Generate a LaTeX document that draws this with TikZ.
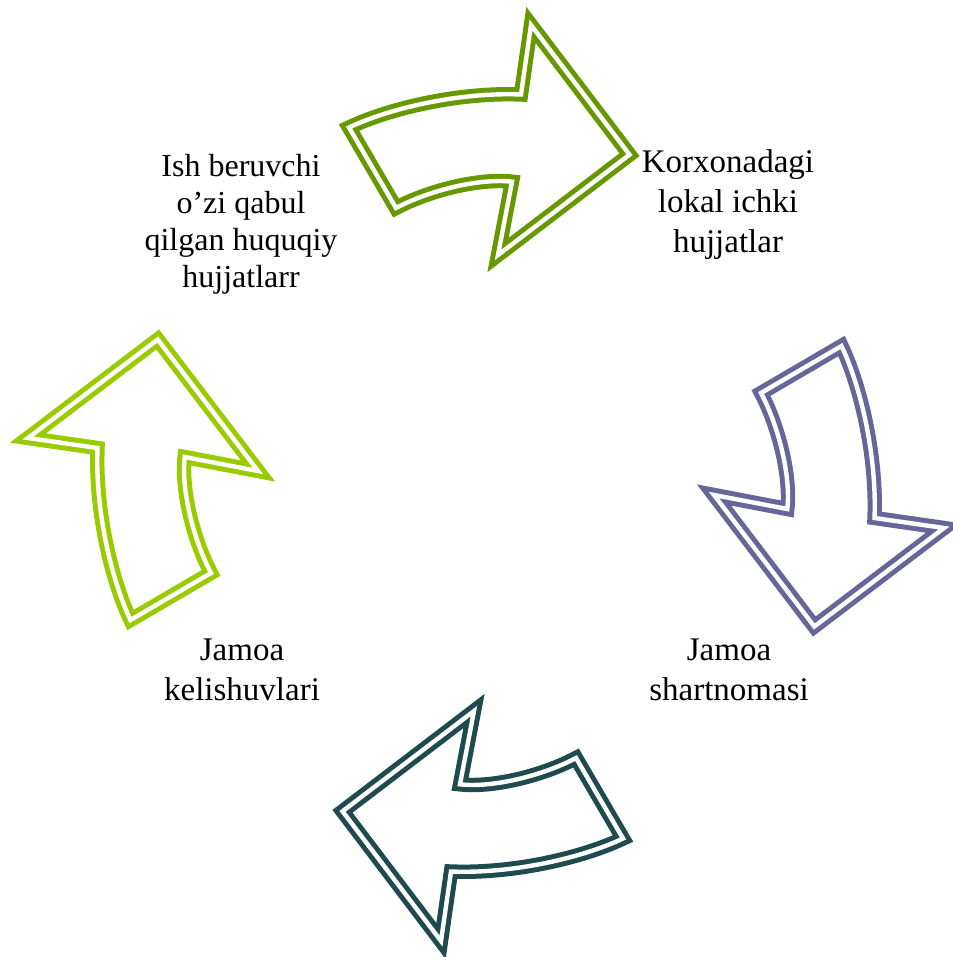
\documentclass[tikz,border=0pt]{standalone}
\usepackage{fontspec}
\setmainfont{Liberation Serif}
\definecolor{cA}{HTML}{669900}
\definecolor{cB}{HTML}{666699}
\definecolor{cC}{HTML}{1F4A4E}
\definecolor{cD}{HTML}{99CC00}
\tikzset{
  arrowline/.style={line width=5pt, double=white, double distance=4.4pt, line join=miter, miter limit=10},
  lbl/.style={align=center, inner sep=0pt, font=\fontsize{33}{40}\selectfont},
  lblsmall/.style={align=center, inner sep=0pt, font=\fontsize{32}{37}\selectfont}
}
\newcommand\cyclearrow[2]{%
  \draw[arrowline, draw=#1, rotate around={#2:(486,483)}]
    (349,127.5) .. controls (390,108) and (460,92) .. (521,94.5)
    -- (531,25) -- (629.5,154.7) -- (498,255) -- (512,181.7)
    .. controls (480,178) and (430,190) .. (396,208) -- cycle;}
\begin{document}
\begin{tikzpicture}[x=1pt,y=-1pt]
\useasboundingbox (0,0) rectangle (952,957);
\cyclearrow{cA}{0}
\cyclearrow{cB}{-90}
\cyclearrow{cC}{-180}
\cyclearrow{cD}{90}
\node[lbl] (t1) at (728,205) {Korxonadagi\\lokal ichki\\hujjatlar};
\node[lbl] (t2) at (729,670) {Jamoa\\shartnomasi};
\node[lbl] (t3) at (242,670) {Jamoa\\kelishuvlari};
\node[lblsmall] (t4) at (241,224) {Ish beruvchi\\o’zi qabul\\qilgan huquqiy\\hujjatlarr};
\end{tikzpicture}
\end{document}
